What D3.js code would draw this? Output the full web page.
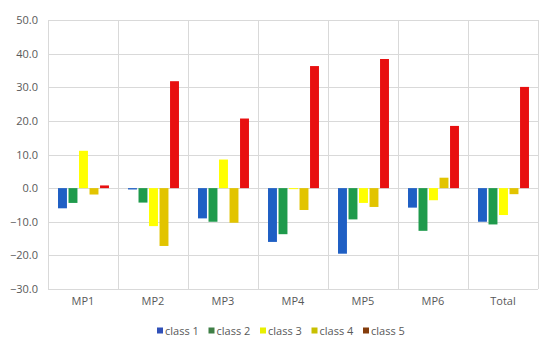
<!DOCTYPE html>
<html>
<head>
<meta charset="utf-8">
<script src="https://cdn.jsdelivr.net/npm/d3@7"></script>
<style>
  body { margin: 0; background: #fff; }
  text { font-family: "Open Sans", "Noto Sans", sans-serif; fill: #595959; }
</style>
</head>
<body>
<div id="chart"></div>
<script>
// chart data
var groups = ["MP1", "MP2", "MP3", "MP4", "MP5", "MP6", "Total"];
var classes = ["class 1", "class 2", "class 3", "class 4", "class 5"];
var class1 = [-6.0, -0.4, -9.0, -16.0, -19.5, -5.8, -10.0];
var class2 = [-4.4, -4.3, -10.0, -13.7, -9.3, -12.7, -10.8];
var class3 = [11.1, -11.3, 8.5, -0.3, -4.4, -3.6, -8.0];
var class4 = [-1.9, -17.2, -10.3, -6.5, -5.6, 3.1, -1.8];
var class5 = [0.8, 31.8, 20.7, 36.3, 38.4, 18.5, 30.1];
var yTicks = [-30, -20, -10, 0, 10, 20, 30, 40, 50];

var barColors = ["#1f5fc4", "#1f9a4c", "#ffff00", "#e2c400", "#e81010"];
var legendColors = ["#3050b8", "#3f7f46", "#e8f000", "#c8c000", "#843c0c"];

var series = [class1, class2, class3, class4, class5];

var W = 550, H = 342;
var margin = {top: 20, right: 12, bottom: 53, left: 48};
var width = W - margin.left - margin.right;
var height = H - margin.top - margin.bottom;

var svg = d3.select("#chart").append("svg")
  .attr("width", W)
  .attr("height", H);

var g = svg.append("g")
  .attr("transform", "translate(" + margin.left + "," + margin.top + ")");

var x0 = d3.scaleBand().domain(groups).range([0, width]).padding(0);
var x1 = d3.scaleBand().domain(classes)
  .range([x0.bandwidth() * 0.143, x0.bandwidth() * 0.871])
  .paddingInner(0.15);
var y = d3.scaleLinear().domain([-30, 50]).range([height, 0]);

// horizontal grid
g.append("g")
  .selectAll("line")
  .data(yTicks)
  .enter().append("line")
    .attr("x1", 0).attr("x2", width)
    .attr("y1", function(d) { return Math.round(y(d)) + 0.5; })
    .attr("y2", function(d) { return Math.round(y(d)) + 0.5; })
    .attr("stroke", "#d9d9d9");

// vertical grid between categories
var vlines = groups.map(function(d) { return x0(d); }).concat([width]);
g.append("g")
  .selectAll("line")
  .data(vlines)
  .enter().append("line")
    .attr("x1", function(d) { return Math.round(d) + 0.5; })
    .attr("x2", function(d) { return Math.round(d) + 0.5; })
    .attr("y1", 0).attr("y2", height)
    .attr("stroke", "#d9d9d9");

// y axis labels
var yAxis = d3.axisLeft(y).tickValues(yTicks).tickSize(0).tickPadding(10)
  .tickFormat(d3.format(".1f"));
var ya = g.append("g").call(yAxis);
ya.select(".domain").remove();
ya.selectAll("text").attr("font-size", 11).style("fill", "#595959")
  .style("font-family", null);

// bars
var rows = [];
groups.forEach(function(grp, i) {
  classes.forEach(function(c, j) {
    rows.push({group: grp, cls: c, idx: j, value: series[j][i]});
  });
});

g.append("g")
  .selectAll("rect")
  .data(rows)
  .enter().append("rect")
    .attr("x", function(d) { return x0(d.group) + x1(d.cls); })
    .attr("width", x1.bandwidth())
    .attr("y", function(d) { return y(Math.max(0, d.value)); })
    .attr("height", function(d) { return Math.abs(y(d.value) - y(0)); })
    .attr("fill", function(d) { return barColors[d.idx]; });

// category labels
var xAxis = d3.axisBottom(x0).tickSize(0).tickPadding(8);
var xa = g.append("g")
  .attr("transform", "translate(0," + height + ")")
  .call(xAxis);
xa.select(".domain").remove();
xa.selectAll("text").attr("font-size", 11).style("fill", "#595959")
  .style("font-family", null);

// legend
var legendX = d3.scalePoint().domain(classes).range([157, 363]);
var legend = svg.append("g")
  .attr("transform", "translate(0,331)");
var item = legend.selectAll("g")
  .data(classes)
  .enter().append("g")
    .attr("transform", function(d) { return "translate(" + legendX(d) + ",0)"; });
item.append("rect")
  .attr("x", 0).attr("y", -3.5)
  .attr("width", 6).attr("height", 6)
  .attr("fill", function(d, i) { return legendColors[i]; });
item.append("text")
  .attr("x", 8).attr("y", 4)
  .attr("font-size", 11)
  .text(function(d) { return d; });
</script>
</body>
</html>
